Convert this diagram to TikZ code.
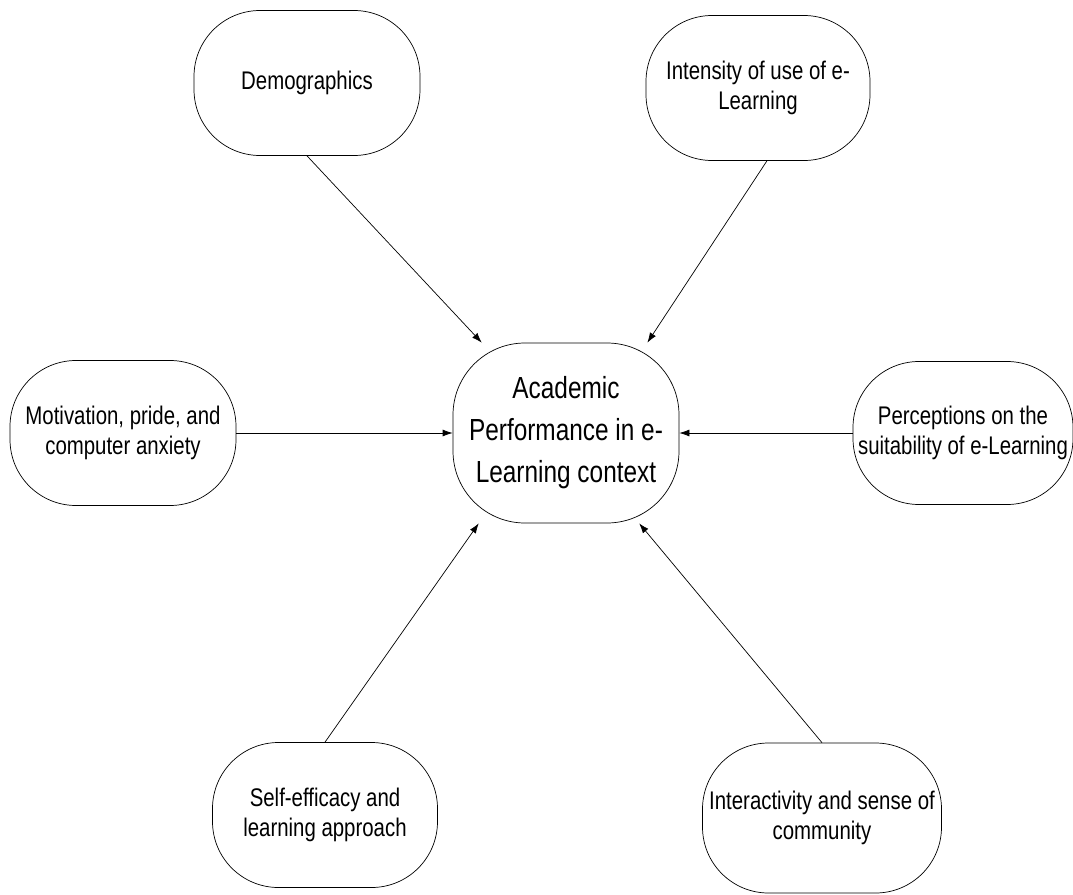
\documentclass[tikz,border=0pt]{standalone}
\usepackage{fontspec}
\setmainfont{Liberation Sans}
\newfontfamily\narrowsans[FakeStretch=0.8]{Liberation Sans}
\usetikzlibrary{arrows.meta, positioning, calc}

\begin{document}
\begin{tikzpicture}[
    x=1pt, y=-1pt,
    factor/.style={draw, line width=0.7pt, fill=white, minimum width=226pt, minimum height=145pt, rounded corners=66pt, align=center, inner sep=2pt, font=\narrowsans\fontsize{25.5}{30}\selectfont},
    outcome/.style={factor, minimum height=180pt, rounded corners=72pt, font=\narrowsans\fontsize{30.5}{42}\selectfont},
    arrow/.style={-{Latex[length=10pt, width=7pt]}, line width=0.7pt}
]
    \useasboundingbox (0,0) rectangle (1073,894);

    % Centre
    \node[outcome] (acad) at (566,433) {Academic\\Performance in e-\\Learning context};

    % Factors
    \node[factor] (demo) at (307,83) {Demographics};
    \node[factor, minimum width=224pt] (intens) at (758,88) {Intensity of use of e-\\Learning};
    \node[factor] (motiv) at (123,433) {Motivation, pride, and\\computer anxiety};
    \node[factor, minimum width=220pt, minimum height=143pt] (perc) at (963,433) {Perceptions on the\\suitability of e-Learning};
    \node[factor, minimum width=225pt] (selfeff) at (325,815) {Self-efficacy and\\learning approach};
    \node[factor, minimum width=239pt, minimum height=150pt] (inter) at (822,818) {Interactivity and sense of\\community};

    % Arrows
    \draw[arrow] (demo.south) -- (acad.133);
    \draw[arrow] (intens.-83) -- (acad.48);
    \draw[arrow] (motiv.east) -- (acad.west);
    \draw[arrow] (perc.west) -- (acad.east);
    \draw[arrow] (selfeff.north) -- (acad.226);
    \draw[arrow] (inter.north) -- (acad.-51);
\end{tikzpicture}
\end{document}
